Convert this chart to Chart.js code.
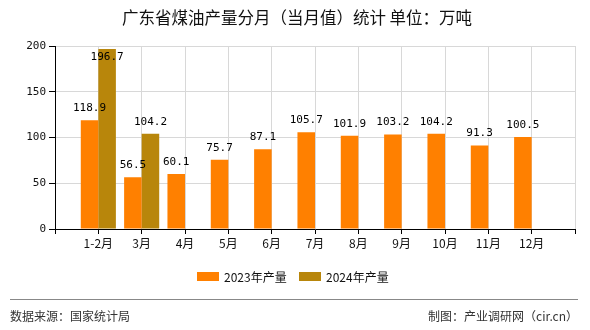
<!DOCTYPE html>
<html>
<head>
<meta charset="utf-8">
<script src="https://cdn.jsdelivr.net/npm/chart.js@4.4.1/dist/chart.umd.min.js"></script>
<style>
  html, body { margin: 0; padding: 0; background: #fff; }
  #wrap { width: 590px; height: 330px; position: relative; }
</style>
</head>
<body>
<div id="wrap"><canvas id="coalOilChart" width="590" height="330"></canvas></div>
<script>
// Monthly kerosene output, Guangdong (10k tonnes)
const months = ['1-2月', '3月', '4月', '5月', '6月', '7月', '8月', '9月', '10月', '11月', '12月'];
const values2023 = [118.9, 56.5, 60.1, 75.7, 87.1, 105.7, 101.9, 103.2, 104.2, 91.3, 100.5];
const values2024 = [196.7, 104.2];
const yTicks = [0, 50, 100, 150, 200];

const seriesNames = ['2023年产量', '2024年产量'];
const seriesColors = ['#FF8000', '#B8860B'];

// empty slot at each end so the months sit between the axis edges
const labels = [''].concat(months, ['']);
function pad(arr) {
    const out = [null];
    for (let i = 0; i < months.length; i++) out.push(i < arr.length ? arr[i] : null);
    out.push(null);
    return out;
}

const labelFont = "11px 'DejaVu Sans Mono', monospace";
const cjkFont = "'Noto Sans CJK SC', 'Noto Sans', sans-serif";

const extrasPlugin = {
    id: 'extras',
    afterDatasetsDraw(chart) {
        const ctx = chart.ctx;
        const area = chart.chartArea;
        ctx.save();
        ctx.font = labelFont;
        ctx.fillStyle = '#000';
        ctx.textAlign = 'center';
        ctx.textBaseline = 'middle';
        chart.data.datasets.forEach((ds, di) => {
            chart.getDatasetMeta(di).data.forEach((bar, i) => {
                const v = ds.data[i];
                if (v === null) return;
                const y = Math.max(bar.y - 12, area.top + 11);
                ctx.fillText(v.toFixed(1), bar.x, y);
            });
        });
        ctx.restore();
    },
    afterDraw(chart) {
        const ctx = chart.ctx;
        ctx.save();
        // title
        ctx.fillStyle = '#111';
        ctx.font = '16.5px ' + cjkFont;
        ctx.textAlign = 'center';
        ctx.textBaseline = 'middle';
        ctx.fillText('广东省煤油产量分月（当月值）统计 单位：万吨', 297, 18);

        // legend
        ctx.font = '12px ' + cjkFont;
        ctx.textAlign = 'left';
        const legendX = [197, 299];
        seriesNames.forEach((name, i) => {
            ctx.fillStyle = seriesColors[i];
            ctx.fillRect(legendX[i], 272, 22, 9);
            ctx.fillStyle = '#111';
            ctx.fillText(name, legendX[i] + 27, 277);
        });

        // footer
        ctx.strokeStyle = '#888';
        ctx.lineWidth = 1;
        ctx.beginPath();
        ctx.moveTo(10, 299.5);
        ctx.lineTo(578, 299.5);
        ctx.stroke();
        ctx.fillStyle = '#333';
        ctx.font = '12px ' + cjkFont;
        ctx.fillText('数据来源：国家统计局', 10, 316);
        ctx.textAlign = 'right';
        ctx.fillText('制图：产业调研网（cir.cn）', 578, 316);
        ctx.restore();
    }
};

new Chart(document.getElementById('coalOilChart'), {
    type: 'bar',
    data: {
        labels: labels,
        datasets: [
            {
                label: seriesNames[0],
                data: pad(values2023),
                backgroundColor: seriesColors[0],
                categoryPercentage: 0.81,
                barPercentage: 1.0
            },
            {
                label: seriesNames[1],
                data: pad(values2024),
                backgroundColor: seriesColors[1],
                categoryPercentage: 0.81,
                barPercentage: 1.0
            }
        ]
    },
    options: {
        responsive: false,
        animation: false,
        layout: { padding: { left: 0, top: 46, right: 15, bottom: 71 } },
        plugins: {
            legend: { display: false },
            tooltip: { enabled: false }
        },
        scales: {
            x: {
                offset: false,
                afterFit: s => { s.height = 30; },
                grid: { color: '#d8d8d8', tickColor: '#000', tickLength: 5, offset: false },
                border: { color: '#000' },
                ticks: {
                    color: '#111',
                    font: { family: cjkFont, size: 12 },
                    padding: 2,
                    maxRotation: 0,
                    autoSkip: false
                }
            },
            y: {
                min: 0,
                max: 200,
                afterFit: s => { s.width = 55; },
                afterBuildTicks: s => { s.ticks = yTicks.map(v => ({ value: v })); },
                grid: { color: '#d8d8d8', tickColor: '#000', tickLength: 6 },
                border: { color: '#000' },
                ticks: {
                    color: '#111',
                    font: { family: 'DejaVu Sans Mono', size: 11 },
                    padding: 3
                }
            }
        }
    },
    plugins: [extrasPlugin]
});
</script>
</body>
</html>
